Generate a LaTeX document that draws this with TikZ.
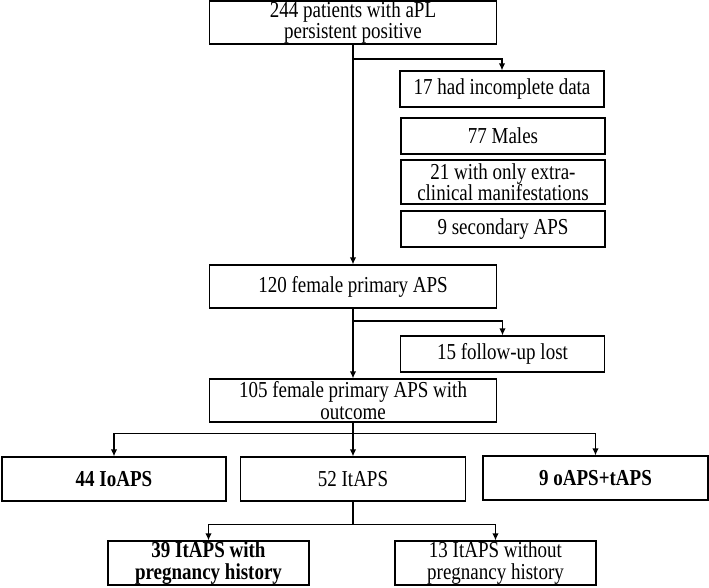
\documentclass[tikz,border=0pt]{standalone}
\usepackage{fontspec}
\setmainfont{Liberation Serif}
\usetikzlibrary{arrows.meta}

\newcommand{\tall}[1]{\scalebox{1}[1.2]{#1}}
\newcommand{\boxfont}{\fontsize{19}{21.5}\selectfont\setlength{\lineskiplimit}{-30pt}}

\begin{document}
\begin{tikzpicture}[x=1pt,y=-1pt,
  box/.style={draw, line width=1.3pt, inner sep=0pt, align=center, font=\boxfont},
  link/.style={line width=1.3pt},
  >={Latex[length=7pt,width=6.5pt]}]

\useasboundingbox (0,0) rectangle (709,587);

\def\Cw{287pt}
\def\Rw{204pt}

% main column
\node[box, minimum width=\Cw, minimum height=43pt] (total) at (353,22.5) {\tall{244 patients with aPL}\\\tall{persistent positive}};
\node[box, minimum width=\Cw, minimum height=43pt] (p120) at (353,286.5) {\tall{120 female primary APS}};
\node[box, minimum width=\Cw, minimum height=43pt] (p105) at (353,400.5) {\tall{105 female primary APS with}\\\tall{outcome}};

% excluded
\node[box, minimum width=\Rw, minimum height=36pt] (incomp) at (502,89) {\tall{17 had incomplete data}};
\node[box, minimum width=\Rw, minimum height=36pt] (males) at (503,136) {\tall{77 Males}};
\node[box, minimum width=\Rw, minimum height=44pt] (extra) at (503,182) {\tall{21 with only extra-}\\\tall{clinical manifestations}};
\node[box, minimum width=\Rw, minimum height=36pt] (second) at (503,229) {\tall{9 secondary APS}};
\node[box, minimum width=\Rw, minimum height=36pt] (lost) at (502.5,354) {\tall{15 follow-up lost}};

% groups
\node[box, minimum width=224pt, minimum height=44pt] (ioaps) at (114,479) {\tall{\textbf{44 IoAPS}}};
\node[box, minimum width=225pt, minimum height=44pt] (itaps) at (353,479) {\tall{52 ItAPS}};
\node[box, minimum width=225pt, minimum height=44pt] (oaps) at (595.5,478) {\tall{\textbf{9 oAPS+tAPS}}};

\node[box, minimum width=201pt, minimum height=44pt] (preg) at (208.5,563) {\tall{\textbf{39 ItAPS with}}\\\tall{\textbf{pregnancy history}}};
\node[box, minimum width=201pt, minimum height=44pt] (nopreg) at (495.5,563) {\tall{13 ItAPS without}\\\tall{pregnancy history}};

\draw[link,->] (total.south) -- (p120.north);
\coordinate (j1) at (353,59);
\draw[link,->] (j1) -| (incomp.north);

\draw[link,->] (p120.south) -- (p105.north);
\coordinate (j2) at (353,321);
\draw[link,->] (j2) -| (lost.north);

\draw[link] (p105.south) -- ++(0,11) coordinate (j3);
\draw[link,->] (j3) -| (ioaps.north);
\draw[link,->] (j3) -- (itaps.north);
\draw[link,->] (j3) -| (oaps.north);

\draw[link] (itaps.south) -- ++(0,23) coordinate (j4);
\draw[link,->] (j4) -| (preg.north);
\draw[link,->] (j4) -| (nopreg.north);

\end{tikzpicture}
\end{document}
